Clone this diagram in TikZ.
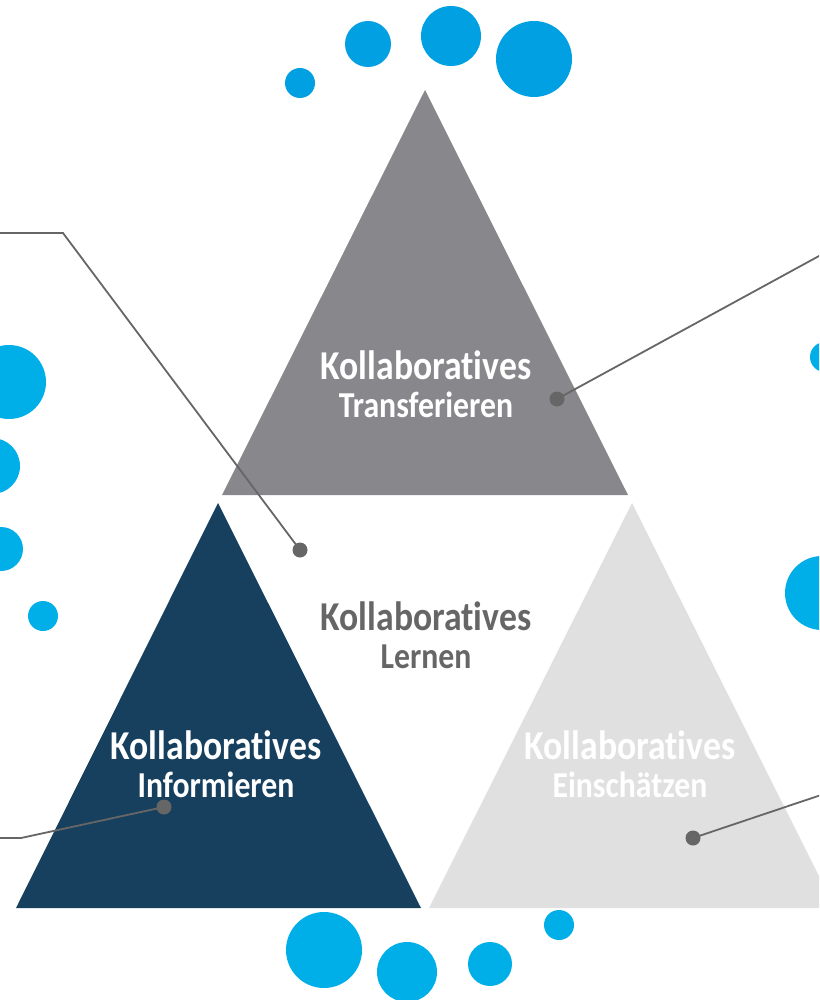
\documentclass[tikz,border=0pt]{standalone}
\usepackage{fontspec}
\setmainfont{Carlito}[FakeStretch=0.87, Ligatures=NoCommon]
\definecolor{triTop}{HTML}{88878C}
\definecolor{triLeft}{HTML}{17405F}
\definecolor{triRight}{HTML}{E0E0E0}
\definecolor{bubbleA}{HTML}{00A0E3}
\definecolor{bubbleB}{HTML}{00AEE8}
\definecolor{leadGray}{HTML}{666666}
\tikzset{
  leadline/.style={draw=leadGray, line width=1.8pt},
  leaddot/.style={shape=circle, fill=leadGray, inner sep=0pt, minimum size=15pt},
  bigword/.style={anchor=base, inner sep=0pt, font=\bfseries\fontsize{41}{41}\selectfont},
  smallword/.style={anchor=base, inner sep=0pt, font=\bfseries\fontsize{36.5}{36.5}\selectfont}
}

\begin{document}
\begin{tikzpicture}[x=1pt, y=-1pt]
\useasboundingbox (0,0) rectangle (819,1000);
\clip (0,0) rectangle (819,1000);
\fill[triTop] (222,495) -- (425,90) -- (628,495) -- cycle;
\fill[triLeft] (16,908) -- (218,503) -- (421,908) -- cycle;
\fill[triRight] (429,908) -- (632,503) -- (835,908) -- cycle;
\fill[bubbleA] (300,83) circle (15);
\fill[bubbleA] (368,44) circle (23);
\fill[bubbleA] (451,36) circle (30);
\fill[bubbleA] (534,59) circle (38);
\fill[bubbleB] (9,382) circle (37);
\fill[bubbleB] (-8,466) circle (28);
\fill[bubbleB] (1,549) circle (22);
\fill[bubbleB] (43,616) circle (15);
\fill[bubbleB] (825,357) circle (15);
\fill[bubbleB] (822,593) circle (37);
\fill[bubbleB] (324,950) circle (38);
\fill[bubbleB] (407,972) circle (30);
\fill[bubbleB] (490,964) circle (22);
\fill[bubbleB] (559,925) circle (15);
\node[bigword, text=white] (top1) at (426,379) {Kollaboratives};
\node[smallword, text=white] (top2) at (426,417) {Transferieren};
\node[bigword, text=leadGray] (mid1) at (426,630) {Kollaboratives};
\node[smallword, text=leadGray] (mid2) at (426,668) {Lernen};
\node[bigword, text=white] (left1) at (216,759) {Kollaboratives};
\node[smallword, text=white] (left2) at (216,797) {Informieren};
\node[bigword, text=white] (right1) at (630,759) {Kollaboratives};
\node[smallword, text=white] (right2) at (630,797) {Einschätzen};
\node[leaddot] (D1) at (300,550) {};
\node[leaddot] (D2) at (557,399) {};
\node[leaddot] (D3) at (164,807) {};
\node[leaddot] (D4) at (693,838) {};
\coordinate (A1) at (-5,233);
\coordinate (B1) at (63,233);
\coordinate (A2) at (830,250);
\coordinate (A3) at (-5,838);
\coordinate (B3) at (21,838);
\coordinate (A4) at (830,792);
\draw[leadline] (A1) -- (B1) -- (D1.center);
\draw[leadline] (A2) -- (D2.center);
\draw[leadline] (A3) -- (B3) -- (D3.center);
\draw[leadline] (A4) -- (D4.center);
\end{tikzpicture}
\end{document}
